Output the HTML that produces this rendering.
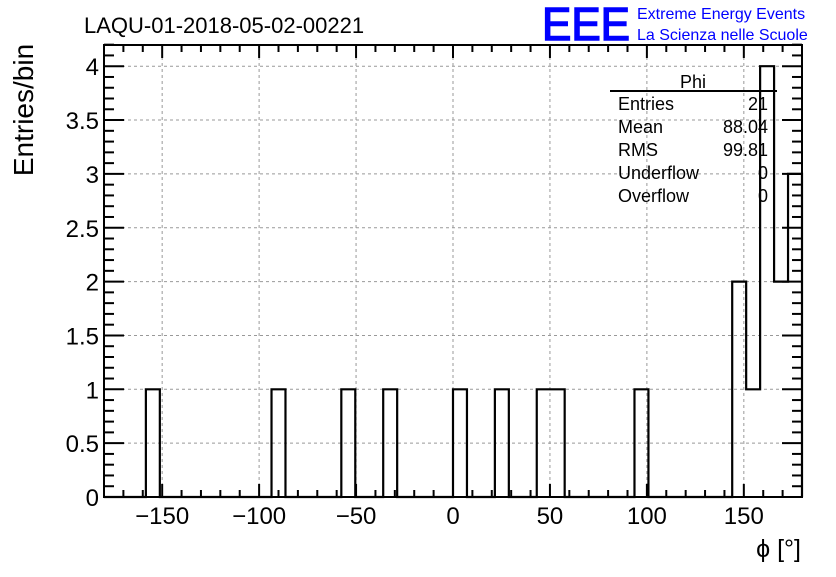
<!DOCTYPE html>
<html><head><meta charset="utf-8"><style>
body{margin:0;background:#fff;}
svg text{font-family:"Liberation Sans",sans-serif;}
</style></head><body>
<svg id="c" width="836" height="572" xmlns="http://www.w3.org/2000/svg">
<rect width="836" height="572" fill="#fff"/>
<text x="84" y="33" font-size="22">LAQU-01-2018-05-02-00221</text>
<text x="542" y="40" font-size="46" fill="#0000ff" stroke="#0000ff" stroke-width="1.5" textLength="88" lengthAdjust="spacingAndGlyphs">EEE</text>
<text x="637" y="19" font-size="16" fill="#0000ff">Extreme Energy Events</text>
<text x="637" y="40" font-size="16" fill="#0000ff">La Scienza nelle Scuole</text>
<text transform="translate(33,110) rotate(-90)" text-anchor="middle" font-size="28">Entries/bin</text>
<text x="801" y="557" text-anchor="end" font-size="25">ϕ [°]</text>
<g id="grid"></g><g id="bars"></g><g id="axes"></g>
<g font-size="18">
<text x="693" y="88" text-anchor="middle">Phi</text>
<line x1="610" y1="91" x2="777" y2="91" stroke="#000" stroke-width="2"/>
<text x="618" y="110">Entries</text><text x="768" y="110" text-anchor="end">21</text>
<text x="618" y="133">Mean</text><text x="768" y="133" text-anchor="end">88.04</text>
<text x="618" y="156">RMS</text><text x="768" y="156" text-anchor="end">99.81</text>
<text x="618" y="179">Underflow</text><text x="768" y="179" text-anchor="end">0</text>
<text x="618" y="202">Overflow</text><text x="768" y="202" text-anchor="end">0</text>
</g>
</svg>
<script>
const binLow=-180, binWidth=7.2, nBins=50;
const filledBins=[3,12,17,20,25,28,31,32,38,45,46,47,48,49];
const binCounts=[1,1,1,1,1,1,1,1,1,2,1,4,2,3];
const xTicks=[-150,-100,-50,0,50,100,150];
const xTickLabels=["\u2212150","\u2212100","\u221250","0","50","100","150"];
const yTicks=[0,0.5,1,1.5,2,2.5,3,3.5,4];
const yTickLabels=["0","0.5","1","1.5","2","2.5","3","3.5","4"];
const X0=104,X1=802,Y0=497,Y1=45,XMIN=-180,XMAX=180,YMAX=4.2;
const ys=107.7;
const sx=v=>X0+(v-XMIN)/(XMAX-XMIN)*(X1-X0);
const sy=v=>Y0-v*ys;
const NS="http://www.w3.org/2000/svg";
function mk(t,a,p){const e=document.createElementNS(NS,t);for(const k in a)e.setAttribute(k,a[k]);p.appendChild(e);return e;}
const grid=document.getElementById('grid'),bars=document.getElementById('bars'),axes=document.getElementById('axes');
xTicks.forEach(v=>{const l=mk('line',{x1:sx(v),x2:sx(v),y1:Y1,y2:Y0,stroke:'#999','stroke-dasharray':'3,3'},grid);

});
yTicks.forEach(v=>{const l=mk('line',{x1:X0,x2:X1,y1:sy(v),y2:sy(v),stroke:'#999','stroke-dasharray':'3,3'},grid);

});
const counts=new Array(nBins).fill(0);
filledBins.forEach((b,i)=>counts[b]=binCounts[i]);
let d='M'+sx(binLow)+','+sy(0);
for(let i=0;i<nBins;i++){const a=sx(binLow+i*binWidth),b=sx(binLow+(i+1)*binWidth);d+=' L'+a+','+sy(counts[i])+' L'+b+','+sy(counts[i]);}
d+=' L'+X1+','+sy(0);
const p=mk('path',{d:d,fill:'none',stroke:'#000','stroke-width':2.2},bars);


const f=mk('rect',{x:X0,y:Y1,width:X1-X0,height:Y0-Y1,fill:'none',stroke:'#000','stroke-width':2},axes);


for(let v=-180;v<=180;v+=10){const maj=v%50===0,h=maj?13:7;
mk('line',{x1:sx(v),x2:sx(v),y1:Y0,y2:Y0-h,stroke:'#000','stroke-width':2},axes);
mk('line',{x1:sx(v),x2:sx(v),y1:Y1,y2:Y1+h,stroke:'#000','stroke-width':2},axes);}
for(let i=0;i<=42;i++){const v=i/10,maj=i%5===0,w=maj?20:10;
mk('line',{x1:X0,x2:X0+w,y1:sy(v),y2:sy(v),stroke:'#000','stroke-width':2},axes);
mk('line',{x1:X1,x2:X1-w,y1:sy(v),y2:sy(v),stroke:'#000','stroke-width':2},axes);}
xTicks.forEach((v,i)=>{const t=mk('text',{x:sx(v),y:524,'text-anchor':'middle','font-size':24},axes);t.textContent=xTickLabels[i];

});
yTicks.forEach((v,i)=>{const t=mk('text',{x:99,y:sy(v)+9,'text-anchor':'end','font-size':24},axes);t.textContent=yTickLabels[i];

});
</script>
</body></html>
